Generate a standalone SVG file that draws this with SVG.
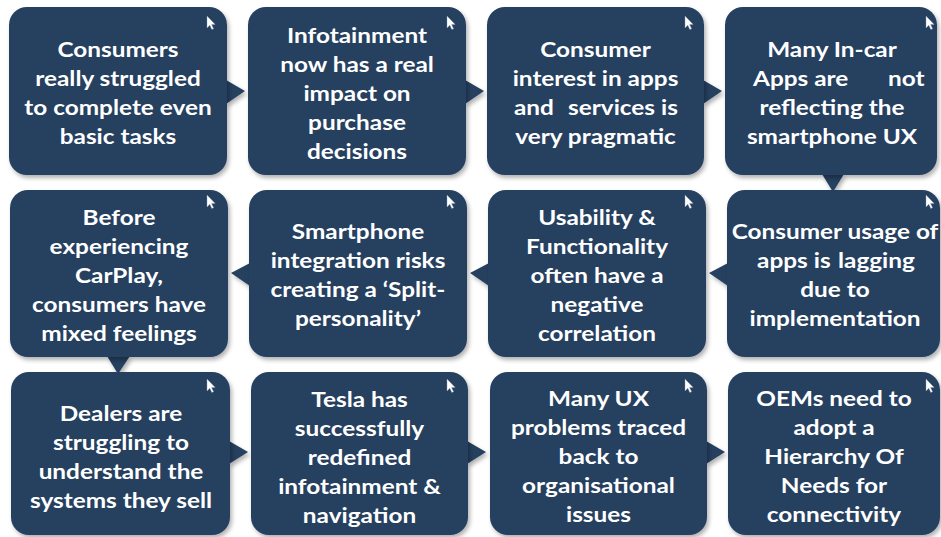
<svg xmlns="http://www.w3.org/2000/svg" xmlns:xlink="http://www.w3.org/1999/xlink" width="941" height="537" viewBox="0 0 941 537">
<style>
.box{fill:#253F60}
.ptr{fill:#253F60}
.t{font-family:Lato,"Noto Sans","Liberation Sans",sans-serif;font-weight:bold;font-size:21px;fill:#FFFFFF;text-anchor:middle}
.s{text-anchor:start}
.cur{fill:#FFFFFF;stroke:#8a97a8;stroke-width:0.4}
</style>
<defs>
<filter id="sh" x="-10%" y="-10%" width="125%" height="125%">
<feDropShadow dx="2" dy="3" stdDeviation="2" flood-color="#000" flood-opacity="0.3"/>
</filter>
<path id="cursor" class="cur" d="M0,0 L0,12 L2.8,9.3 L4.8,13.6 L6.6,12.8 L4.6,8.6 L8.2,8.4 Z"/>
</defs>
<rect width="941" height="537" fill="#FFFFFF"/>
<g id="connectors" filter="url(#sh)">
<polygon class="ptr" points="226,80 245,91 226,104"/>
<polygon class="ptr" points="465,80 484,91 465,104"/>
<polygon class="ptr" points="703,80 722,91 703,104"/>
<polygon class="ptr" points="822,174 844,174 833,192"/>
<polygon class="ptr" points="728,263 709,273 728,286"/>
<polygon class="ptr" points="489,263 470,273 489,286"/>
<polygon class="ptr" points="250,263 231,273 250,286"/>
<polygon class="ptr" points="107,356 130,356 118,374"/>
<polygon class="ptr" points="229,441 248,452 229,464"/>
<polygon class="ptr" points="467,441 486,452 467,464"/>
<polygon class="ptr" points="706,441 725,452 706,464"/>
</g>
<g id="n1"><rect class="box" filter="url(#sh)" x="9" y="7" width="218" height="168" rx="18"/><use xlink:href="#cursor" x="207" y="16"/>
<text class="t" transform="translate(118,0) scale(1.16,1)"><tspan x="0" y="57">Consumers</tspan><tspan x="0" y="86">really struggled</tspan><tspan x="0" y="115">to complete even</tspan><tspan x="0" y="144">basic tasks</tspan></text></g>
<g id="n2"><rect class="box" filter="url(#sh)" x="248" y="7" width="218" height="168" rx="18"/><use xlink:href="#cursor" x="447" y="16"/>
<text class="t" transform="translate(357,0) scale(1.16,1)"><tspan x="0" y="43">Infotainment</tspan><tspan x="0" y="72">now has a real</tspan><tspan x="0" y="101">impact on</tspan><tspan x="0" y="130">purchase</tspan><tspan x="0" y="159">decisions</tspan></text></g>
<g id="n3"><rect class="box" filter="url(#sh)" x="487" y="7" width="217" height="168" rx="18"/><use xlink:href="#cursor" x="685" y="16"/>
<text class="t" transform="translate(595.5,0) scale(1.16,1)"><tspan x="0" y="57">Consumer</tspan><tspan x="0" y="86">interest in apps</tspan><tspan class="s" x="-70.3" y="115">and</tspan><tspan class="s" x="-23.7" y="115">services is</tspan><tspan x="0" y="144">very pragmatic</tspan></text></g>
<g id="n4"><rect class="box" filter="url(#sh)" x="725" y="7" width="212" height="168" rx="18"/><use xlink:href="#cursor" x="926" y="16"/>
<text class="t" transform="translate(832,0) scale(1.16,1)"><tspan x="0" y="57">Many In-car</tspan><tspan class="s" x="-68.1" y="86">Apps are</tspan><tspan class="s" x="48.3" y="86">not</tspan><tspan x="0" y="115">reflecting the</tspan><tspan x="0" y="144">smartphone UX</tspan></text></g>
<g id="n5"><rect class="box" filter="url(#sh)" x="10" y="190" width="218" height="167" rx="18"/><use xlink:href="#cursor" x="207" y="195"/>
<text class="t" transform="translate(119,0) scale(1.16,1)"><tspan x="0" y="225">Before</tspan><tspan x="0" y="254">experiencing</tspan><tspan x="0" y="283">CarPlay,</tspan><tspan x="0" y="312">consumers have</tspan><tspan x="0" y="341">mixed feelings</tspan></text></g>
<g id="n6"><rect class="box" filter="url(#sh)" x="249" y="190" width="218" height="167" rx="18"/><use xlink:href="#cursor" x="447" y="195"/>
<text class="t" transform="translate(358,0) scale(1.16,1)"><tspan x="0" y="239.5">Smartphone</tspan><tspan x="0" y="268.5">integration risks</tspan><tspan x="0" y="297.5">creating a ‘Split-</tspan><tspan x="0" y="326.5">personality’</tspan></text></g>
<g id="n7"><rect class="box" filter="url(#sh)" x="488" y="190" width="218" height="167" rx="18"/><use xlink:href="#cursor" x="685" y="195"/>
<text class="t" transform="translate(597,0) scale(1.16,1)"><tspan x="0" y="225">Usability &amp;</tspan><tspan x="0" y="254">Functionality</tspan><tspan x="0" y="283">often have a</tspan><tspan x="0" y="312">negative</tspan><tspan x="0" y="341">correlation</tspan></text></g>
<g id="n8"><rect class="box" filter="url(#sh)" x="727" y="190" width="213" height="167" rx="18"/><use xlink:href="#cursor" x="926" y="195"/>
<text class="t" transform="translate(835,0) scale(1.16,1)"><tspan x="0" y="239.5">Consumer usage of</tspan><tspan class="s" x="-67.2" y="268.5">apps is</tspan><tspan class="s" x="2.6" y="268.5">lagging</tspan><tspan x="0" y="297.5">due to</tspan><tspan x="0" y="326.5">implementation</tspan></text></g>
<g id="n9"><rect class="box" filter="url(#sh)" x="11" y="372" width="219" height="163" rx="18"/><use xlink:href="#cursor" x="207" y="379"/>
<text class="t" transform="translate(121,0) scale(1.16,1)"><tspan x="0" y="421">Dealers are</tspan><tspan x="0" y="450">struggling to</tspan><tspan x="0" y="479">understand the</tspan><tspan x="0" y="508">systems they sell</tspan></text></g>
<g id="n10"><rect class="box" filter="url(#sh)" x="251" y="372" width="217" height="163" rx="18"/><use xlink:href="#cursor" x="447" y="379"/>
<text class="t" transform="translate(359.5,0) scale(1.16,1)"><tspan x="0" y="407">Tesla has</tspan><tspan x="0" y="436">successfully</tspan><tspan x="0" y="465">redefined</tspan><tspan x="0" y="494">infotainment &amp;</tspan><tspan x="0" y="523">navigation</tspan></text></g>
<g id="n11"><rect class="box" filter="url(#sh)" x="490" y="372" width="217" height="163" rx="18"/><use xlink:href="#cursor" x="685" y="379"/>
<text class="t" transform="translate(598.5,0) scale(1.16,1)"><tspan x="0" y="406">Many UX</tspan><tspan x="0" y="435">problems traced</tspan><tspan x="0" y="464">back to</tspan><tspan x="0" y="493">organisational</tspan><tspan x="0" y="522">issues</tspan></text></g>
<g id="n12"><rect class="box" filter="url(#sh)" x="728" y="372" width="212" height="163" rx="18"/><use xlink:href="#cursor" x="926" y="379"/>
<text class="t" transform="translate(834,0) scale(1.16,1)"><tspan x="0" y="406">OEMs need to</tspan><tspan x="0" y="435">adopt a</tspan><tspan x="0" y="464">Hierarchy Of</tspan><tspan x="0" y="493">Needs for</tspan><tspan x="0" y="522">connectivity</tspan></text></g>
</svg>
